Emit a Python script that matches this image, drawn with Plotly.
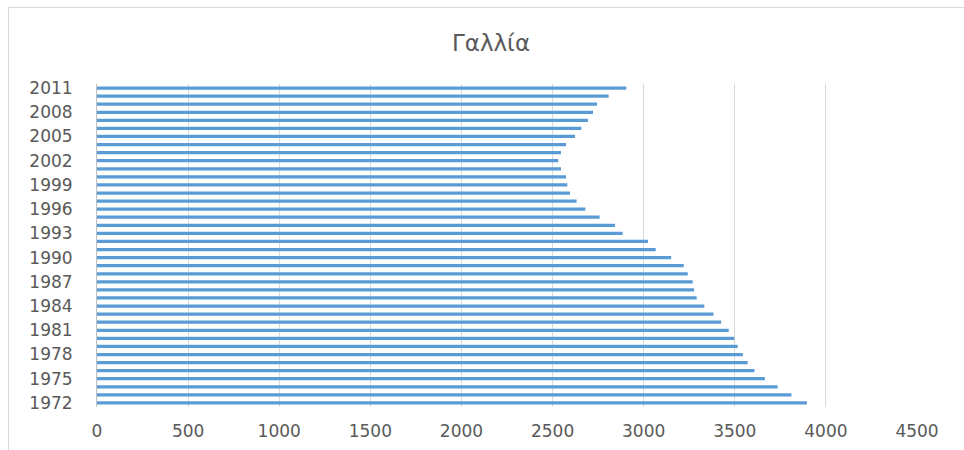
import plotly.graph_objects as go

years = list(range(1972, 2012))
values = [
    3896, 3811, 3735, 3665, 3608, 3571, 3544, 3516, 3497, 3467,
    3425, 3383, 3333, 3291, 3277, 3269, 3242, 3220, 3151, 3066,
    3024, 2885, 2843, 2758, 2680, 2632, 2596, 2581, 2574, 2546,
    2531, 2546, 2574, 2623, 2658, 2694, 2722, 2744, 2808, 2905,
]
x_ticks = list(range(0, 5000, 500))
title_text = "Γαλλία"

W, H = 964, 450
L, R, T, B = 97, 47, 84, 43
pw, ph = W - L - R, H - T - B

def px_x(p):
    return (p - L) / pw

def px_y(p):
    return (H - B - p) / ph

font_family = "DejaVu Sans, Open Sans, sans-serif"
text_color = "#595959"

fig = go.Figure(
    go.Bar(
        x=values,
        y=years,
        orientation="h",
        marker=dict(color="#5b9bd5", line=dict(width=0)),
        hoverinfo="x+y",
    )
)

fig.update_layout(
    width=W,
    height=H,
    margin=dict(l=L, r=R, t=T, b=B, autoexpand=False),
    paper_bgcolor="white",
    plot_bgcolor="white",
    bargap=0.6,
    showlegend=False,
    title=dict(
        text=title_text,
        x=(491) / W,
        xanchor="center",
        y=1 - 43 / H,
        yanchor="middle",
        font=dict(family=font_family, size=23, color=text_color),
    ),
    xaxis=dict(
        range=[0, 4500],
        tickvals=x_ticks,
        automargin=False,
        showgrid=True,
        gridcolor="#d9d9d9",
        gridwidth=1,
        zeroline=False,
        showline=False,
        ticks="outside",
        ticklen=9,
        tickcolor="rgba(0,0,0,0)",
        tickfont=dict(family=font_family, size=17, color=text_color),
        fixedrange=True,
    ),
    yaxis=dict(
        range=[1971.5, 2011.5],
        tick0=1972,
        dtick=3,
        automargin=False,
        showgrid=False,
        zeroline=False,
        showline=True,
        linecolor="#bfbfbf",
        linewidth=1,
        ticks="outside",
        ticklen=20,
        tickcolor="rgba(0,0,0,0)",
        tickfont=dict(family=font_family, size=17, color=text_color),
        fixedrange=True,
    ),
    shapes=[
        dict(
            type="rect",
            xref="paper",
            yref="paper",
            x0=px_x(8.5),
            x1=px_x(975),
            y0=px_y(460),
            y1=px_y(7.5),
            line=dict(color="#d9d9d9", width=1),
            fillcolor="rgba(0,0,0,0)",
            layer="below",
        )
    ],
)

fig.write_html("out.html")
